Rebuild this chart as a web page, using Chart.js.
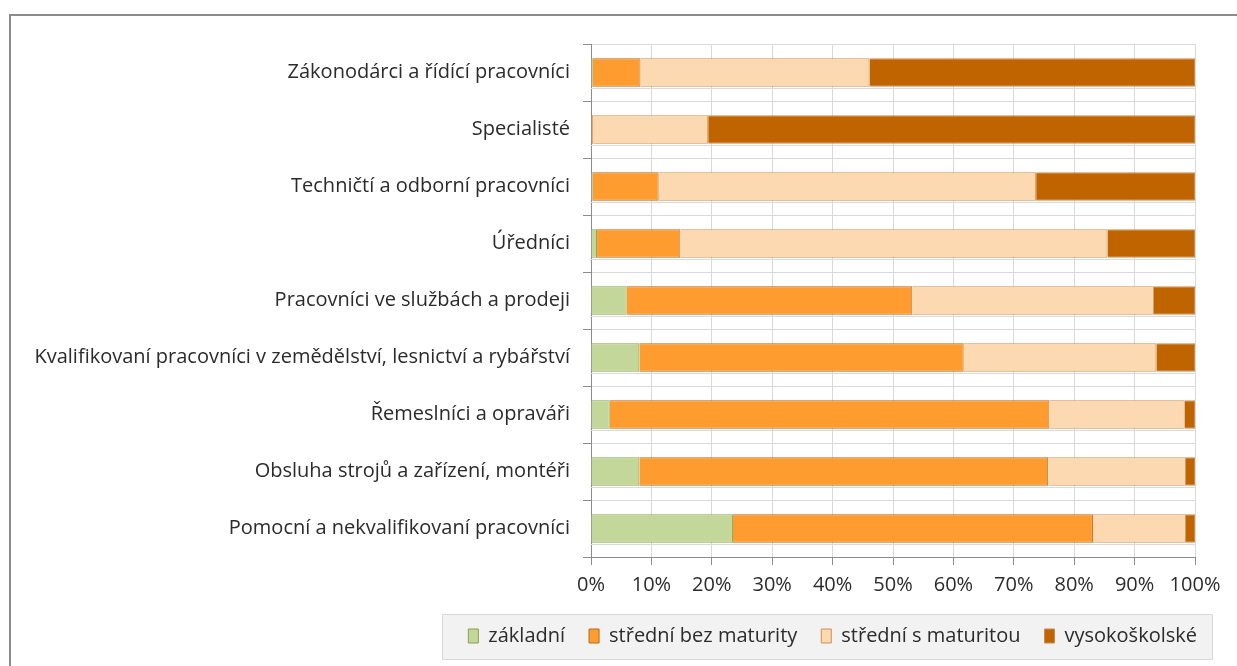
<!DOCTYPE html>
<html>
<head>
<meta charset="utf-8">
<script src="https://cdn.jsdelivr.net/npm/chart.js@4"></script>
<style>
  html, body { margin: 0; padding: 0; background: #fff; overflow: hidden; }
  #frame {
    position: absolute; left: 9px; top: 14px; width: 1240px; height: 700px;
    border-top: 2px solid #8c8c8c; border-left: 2px solid #8c8c8c;
  }
  #wrap { position: absolute; left: 0; top: 0; width: 1226px; height: 644px; }
</style>
</head>
<body>
<div id="frame"><div id="wrap"><canvas id="chart"></canvas></div></div>
<script>
const categories = [
  "Zákonodárci a řídící pracovníci",
  "Specialisté",
  "Techničtí a odborní pracovníci",
  "Úředníci",
  "Pracovníci ve službách a prodeji",
  "Kvalifikovaní pracovníci v zemědělství, lesnictví a rybářství",
  "Řemeslníci a opraváři",
  "Obsluha strojů a zařízení, montéři",
  "Pomocní a nekvalifikovaní pracovníci"
];
const seriesNames = ["základní", "střední bez maturity", "střední s maturitou", "vysokoškolské"];
const zakladni = [0.3, 0.1, 0.3, 1.0, 5.9, 8.0, 3.1, 8.0, 23.5];
const stredniBez = [7.9, 0.3, 10.9, 13.8, 47.3, 53.7, 72.8, 67.7, 59.6];
const stredniS = [37.9, 19.0, 62.5, 70.7, 40.0, 31.9, 22.4, 22.8, 15.4];
const vysoko = [53.9, 80.6, 26.3, 14.5, 6.8, 6.4, 1.7, 1.5, 1.5];
const xTicks = [0, 10, 20, 30, 40, 50, 60, 70, 80, 90, 100];

const fillColors = ["#c4d79b", "#ff9c2f", "#fdd9b1", "#c06400"];
const edgeColors = ["#86a34c", "#b9661a", "#cf8f4f", "#c98a4e"];

const FONT = { family: "'Open Sans', sans-serif", size: 20 };
const TEXT = "#2b2b2b";

// extra light lines just under each bar, like the original
const extraLines = {
  id: "extraLines",
  beforeDatasetsDraw(chart) {
    const y = chart.scales.y, a = chart.chartArea, ctx = chart.ctx;
    const step = y.getPixelForValue(1) - y.getPixelForValue(0);
    ctx.save();
    ctx.strokeStyle = "#dadada";
    ctx.lineWidth = 1;
    categories.forEach((c, i) => {
      const py = Math.round(y.getPixelForValue(i) + step * 0.28) + 0.5;
      ctx.beginPath();
      ctx.moveTo(a.left, py);
      ctx.lineTo(a.right, py);
      ctx.stroke();
    });
    ctx.restore();
  }
};

// grey box behind the legend
const legendBox = {
  id: "legendBox",
  beforeDraw(chart) {
    const boxes = chart.legend && chart.legend.legendHitBoxes;
    if (!boxes || !boxes.length) return;
    const l = Math.min(...boxes.map(b => b.left)) - 26;
    const r = Math.max(...boxes.map(b => b.left + b.width)) + 15;
    const t = Math.min(...boxes.map(b => b.top)) - 12;
    const bt = Math.max(...boxes.map(b => b.top + b.height)) + 13;
    const ctx = chart.ctx;
    ctx.save();
    ctx.fillStyle = "#f2f2f2";
    ctx.fillRect(l, t, r - l, bt - t);
    ctx.strokeStyle = "#d9d9d9";
    ctx.lineWidth = 1;
    ctx.strokeRect(Math.round(l) + 0.5, Math.round(t) + 0.5, Math.round(r - l), Math.round(bt - t));
    ctx.restore();
  }
};

new Chart(document.getElementById("chart"), {
  type: "bar",
  data: {
    labels: categories,
    datasets: [zakladni, stredniBez, stredniS, vysoko].map((d, i) => ({
      label: seriesNames[i],
      data: d,
      backgroundColor: fillColors[i],
      borderColor: edgeColors[i],
      borderWidth: 1,
      barPercentage: 0.5,
      categoryPercentage: 1.0
    }))
  },
  options: {
    indexAxis: "y",
    responsive: true,
    maintainAspectRatio: false,
    animation: false,
    layout: { padding: { top: 28, right: 16, bottom: 4, left: 0 } },
    scales: {
      x: {
        stacked: true,
        min: 0,
        max: 100,
        afterBuildTicks: s => { s.ticks = xTicks.map(v => ({ value: v })); },
        afterFit: s => { s.height = 45; s.paddingRight = 42; },
        ticks: { callback: v => v + "%", font: FONT, color: TEXT, padding: 8 },
        grid: { color: "#d9d9d9", tickColor: "#8c8c8c", tickLength: 8 },
        border: { color: "#8c8c8c" }
      },
      y: {
        stacked: true,
        afterFit: s => { s.width = 580; },
        ticks: { font: FONT, color: TEXT, padding: 13 },
        grid: { color: "#d9d9d9", tickColor: "#8c8c8c", tickLength: 8, offset: true },
        border: { color: "#8c8c8c" }
      }
    },
    plugins: {
      legend: {
        position: "bottom",
        align: "end",
        labels: { boxWidth: 10, boxHeight: 14, padding: 24, font: FONT, color: TEXT }
      },
      tooltip: { enabled: false }
    }
  },
  plugins: [extraLines, legendBox]
});
</script>
</body>
</html>
